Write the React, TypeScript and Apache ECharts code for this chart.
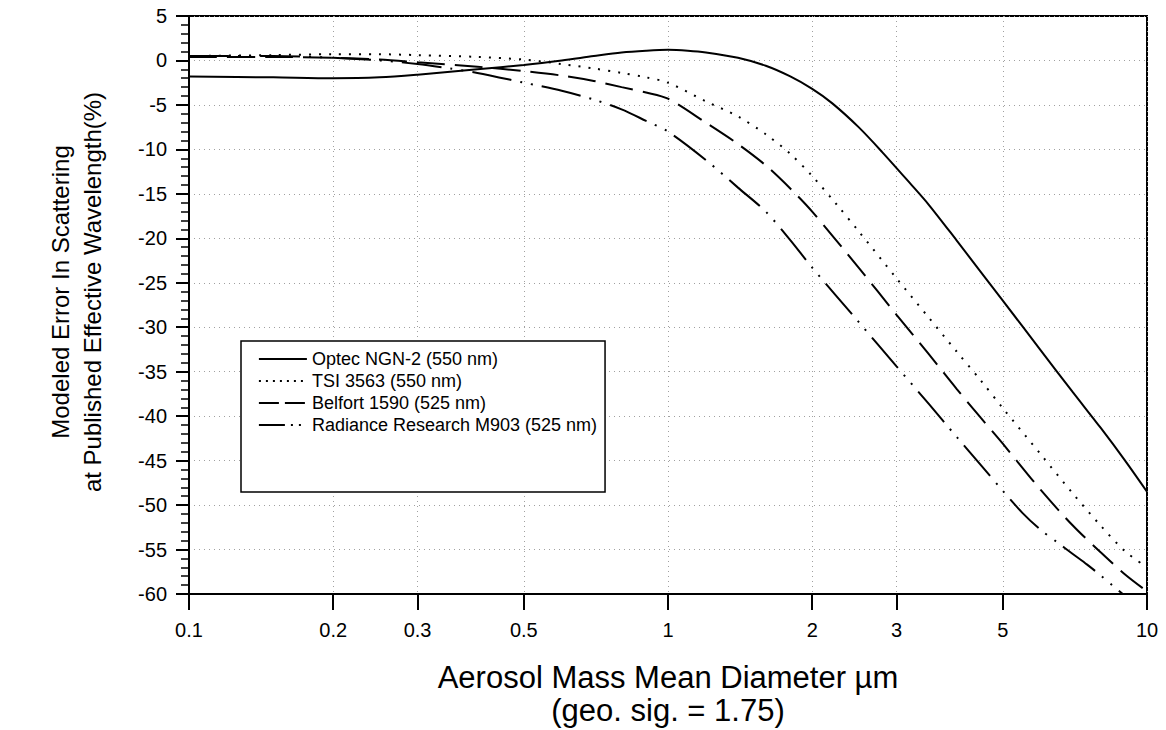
import React, { useEffect, useRef } from "react";
import * as echarts from "echarts";

// Aerosol mass mean diameter ticks (µm), log scale
const xTicks = [0.1, 0.2, 0.3, 0.5, 1, 2, 3, 5, 10];
const xTickLabels = ["0.1", "0.2", "0.3", "0.5", "1", "2", "3", "5", "10"];

const seriesNames = [
  "Optec NGN-2 (550 nm)",
  "TSI 3563 (550 nm)",
  "Belfort 1590 (525 nm)",
  "Radiance Research M903 (525 nm)",
];

// Modeled error (%) vs diameter (µm)
const optec: [number, number][] = [
  [0.1, -1.8], [0.15, -1.9], [0.2, -2.0], [0.25, -1.9], [0.3, -1.6], [0.4, -1.0],
  [0.5, -0.5], [0.6, 0.0], [0.7, 0.5], [0.8, 0.9], [0.9, 1.1], [1.0, 1.2],
  [1.1, 1.1], [1.2, 0.9], [1.4, 0.3], [1.6, -0.6], [1.8, -1.8], [2.0, -3.2],
  [2.2, -4.8], [2.5, -7.5], [2.8, -10.3], [3.2, -13.8], [3.5, -16.2], [4.0, -20.2],
  [4.5, -23.8], [5.0, -27.0], [6.0, -32.6], [7.0, -37.3], [8.0, -41.3], [9.0, -45.0],
  [10, -48.5],
];

const tsi: [number, number][] = [
  [0.1, 0.5], [0.15, 0.6], [0.2, 0.7], [0.25, 0.7], [0.3, 0.6], [0.4, 0.4],
  [0.5, 0.1], [0.6, -0.4], [0.7, -0.9], [0.8, -1.4], [0.9, -1.9], [1.0, -2.5],
  [1.2, -4.6], [1.4, -6.3], [1.6, -8.3], [1.8, -10.5], [2.0, -13.0], [2.25, -16.2],
  [2.5, -19.2], [3.0, -24.5], [3.5, -28.9], [4.0, -32.7], [4.5, -36.0], [5.0, -39.1],
  [6.0, -44.3], [7.0, -48.7], [8.0, -52.3], [9.0, -55.2], [10, -57.0],
];

const belfort: [number, number][] = [
  [0.1, 0.4], [0.15, 0.4], [0.2, 0.3], [0.25, 0.1], [0.3, -0.2], [0.4, -0.7],
  [0.5, -1.2], [0.6, -1.7], [0.7, -2.3], [0.8, -3.0], [0.9, -3.6], [1.0, -4.3],
  [1.2, -7.0], [1.4, -9.4], [1.6, -11.8], [1.8, -14.4], [2.0, -17.0], [2.5, -23.3],
  [3.0, -28.6], [3.5, -33.0], [4.0, -36.9], [4.5, -40.2], [5.0, -43.1], [6.0, -48.3],
  [7.0, -52.3], [8.0, -55.3], [9.0, -57.8], [10, -59.7],
];

const radiance: [number, number][] = [
  [0.1, 0.5], [0.15, 0.5], [0.2, 0.3], [0.25, 0.0], [0.3, -0.4], [0.35, -0.9],
  [0.4, -1.4], [0.5, -2.5], [0.6, -3.4], [0.7, -4.4], [0.8, -5.5], [0.9, -6.8],
  [1.0, -8.0], [1.2, -11.2], [1.4, -14.3], [1.6, -17.0], [1.8, -20.2], [2.0, -23.3],
  [2.5, -29.4], [3.0, -34.4], [3.5, -38.6], [4.0, -42.3], [4.5, -45.5], [5.0, -48.4],
  [5.5, -50.9], [6.0, -52.8], [6.5, -54.2], [7.0, -55.5], [7.5, -56.7], [8.0, -57.9],
  [8.5, -59.1], [8.9, -60.0],
];

const FONT = "'Liberation Sans', Arial, Helvetica, sans-serif";

const dashes: (number[] | "solid")[] = ["solid", [2, 8], [28, 10], [40, 9, 2, 9, 2, 9]];
const legendDashes: (number[] | "solid")[] = ["solid", [2, 5], [20, 6], [26, 6, 2, 6, 2, 6]];

export default function App() {
  const ref = useRef<HTMLDivElement>(null);

  useEffect(() => {
    if (!ref.current) return;
    const chart = echarts.init(ref.current, undefined, { renderer: "svg" });

    const seriesData = [optec, tsi, belfort, radiance];

    const labelFor = (v: number) => {
      const i = xTicks.findIndex((t) => Math.abs(t - v) < t * 1e-6);
      return i >= 0 ? xTickLabels[i] : "";
    };

    chart.setOption({
      animation: false,
      backgroundColor: "#fff",
      grid: {
        left: 189,
        right: 19,
        top: 16,
        bottom: 136,
        show: true,
        borderColor: "#000",
        borderWidth: 2,
        backgroundColor: "transparent",
      },
      xAxis: {
        type: "log",
        logBase: 10,
        min: 0.1,
        max: 10,
        axisLine: { show: true, onZero: false, lineStyle: { color: "#000", width: 2 } },
        axisTick: {
          show: true,
          inside: false,
          length: 16,
          customValues: xTicks,
          lineStyle: { color: "#000", width: 2 },
        },
        axisLabel: {
          customValues: xTicks,
          formatter: labelFor,
          margin: 26,
          color: "#000",
          fontFamily: FONT,
          fontSize: 20,
        },
        splitLine: {
          show: true,
          lineStyle: { color: "#a0a0a0", width: 1, type: [1, 4] },
        },
        minorTick: { show: false },
      },
      yAxis: {
        type: "value",
        min: -60,
        max: 5,
        interval: 5,
        axisLine: { show: true, onZero: false, lineStyle: { color: "#000", width: 2 } },
        axisTick: { show: true, inside: false, length: 13, lineStyle: { color: "#000", width: 2 } },
        minorTick: { show: true, splitNumber: 5, length: 8, lineStyle: { color: "#000", width: 1.5 } },
        axisLabel: {
          margin: 22,
          color: "#000",
          fontFamily: FONT,
          fontSize: 20,
        },
        splitLine: {
          show: true,
          lineStyle: { color: "#a0a0a0", width: 1, type: [1, 4] },
        },
      },
      legend: {
        orient: "vertical",
        left: 241,
        top: 341,
        selectedMode: false,
        itemWidth: 48,
        itemHeight: 14,
        itemGap: 4,
        padding: [9, 8, 58, 17],
        borderColor: "#000",
        borderWidth: 1.5,
        backgroundColor: "#fff",
        itemStyle: { opacity: 0 },
        textStyle: { fontFamily: FONT, fontSize: 18, color: "#000", lineHeight: 18 },
        data: seriesNames.map((name, i) => ({
          name,
          itemStyle: { opacity: 0 },
          lineStyle: { type: legendDashes[i], width: 1.8, color: "#000" },
        })),
      },
      series: seriesNames.map((name, i) => ({
        name,
        type: "line",
        data: seriesData[i],
        symbol: "none",
        showSymbol: false,
        smooth: 0.3,
        clip: true,
        lineStyle: { color: "#000", width: 2, type: dashes[i], cap: "butt" },
        itemStyle: { color: "#000" },
        z: 3,
      })),
      graphic: [
        {
          type: "text",
          x: 60,
          y: 292,
          rotation: Math.PI / 2,
          style: {
            text: "Modeled Error In Scattering",
            font: `24px ${FONT}`,
            fill: "#000",
            textAlign: "center",
            textVerticalAlign: "middle",
          },
        },
        {
          type: "text",
          x: 92,
          y: 292,
          rotation: Math.PI / 2,
          style: {
            text: "at Published Effective Wavelength(%)",
            font: `24px ${FONT}`,
            fill: "#000",
            textAlign: "center",
            textVerticalAlign: "middle",
          },
        },
        {
          type: "text",
          x: 668,
          y: 677,
          style: {
            text: "Aerosol Mass Mean Diameter µm",
            font: `31px ${FONT}`,
            fill: "#000",
            textAlign: "center",
            textVerticalAlign: "middle",
          },
        },
        {
          type: "text",
          x: 668,
          y: 710,
          style: {
            text: "(geo. sig. = 1.75)",
            font: `31px ${FONT}`,
            fill: "#000",
            textAlign: "center",
            textVerticalAlign: "middle",
          },
        },
      ],
    });

    return () => chart.dispose();
  }, []);

  return (
    <div
      ref={ref}
      style={{ position: "absolute", left: 0, top: 0, width: 1166, height: 730, background: "#fff" }}
    />
  );
}
